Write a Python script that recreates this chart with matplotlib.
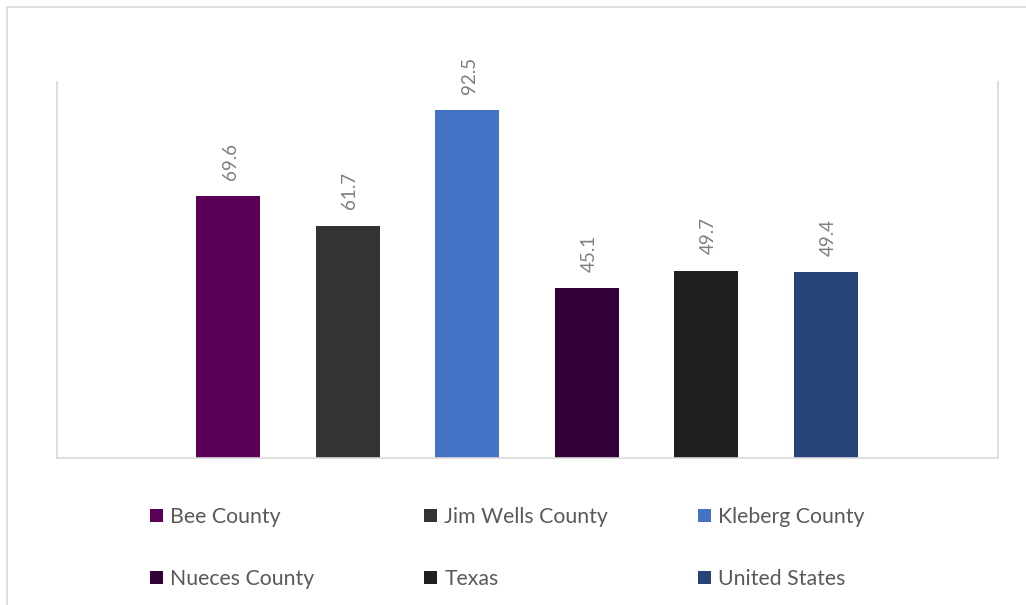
import matplotlib
matplotlib.use('Agg')
import matplotlib.pyplot as plt
from matplotlib.patches import Rectangle, Patch

# data
areas = ['Bee County', 'Jim Wells County', 'Kleberg County',
         'Nueces County', 'Texas', 'United States']
values = [69.6, 61.7, 92.5, 45.1, 49.7, 49.4]
colors = ['#5b0056', '#333331', '#4472c4', '#33003a', '#1f1f1d', '#264478']

plt.rcParams['font.family'] = ['Lato', 'DejaVu Sans']

W, H = 1026, 605
fig = plt.figure(figsize=(W / 100, H / 100), dpi=100)

# outer chart border (cut off on the right and bottom in the reference)
fig.patches.append(Rectangle((7 / W, -0.1), 1.2, 1.1 - 7 / H,
                             transform=fig.transFigure, fill=False,
                             edgecolor='#d9d9d9', linewidth=1.2))

ax = fig.add_axes([57 / W, 1 - 458 / H, (998 - 57) / W, (458 - 82) / H])
xs = list(range(len(values)))
bars = ax.bar(xs, values, width=0.535, color=colors)

for x, v in zip(xs, values):
    ax.annotate(f'{v:.1f}', (x, v), xytext=(1.5, 12), textcoords='offset points',
                rotation=90, ha='center', va='bottom', fontsize=13.5, color='#7f7f7f')

ax.set_xlim(-1.43, 6.44)
ax.set_ylim(0, 100)
ax.set_xticks([])
ax.set_yticks([])
ax.spines['top'].set_visible(False)
for s in ['left', 'right', 'bottom']:
    ax.spines[s].set_color('#d9d9d9')
    ax.spines[s].set_linewidth(1.2)

# legend: three fixed-width columns, two rows
col_x = [150, 424, 698]
for c in range(3):
    handles = [Patch(facecolor=colors[c], label=areas[c]),
               Patch(facecolor=colors[c + 3], label=areas[c + 3])]
    leg = fig.legend(handles=handles, loc='center left',
                     bbox_to_anchor=(col_x[c] / W, 1 - 548 / H),
                     frameon=False, fontsize=15.3, labelcolor='#595959',
                     handlelength=0.6, handleheight=0.6, handletextpad=0.35,
                     borderpad=0, borderaxespad=0, labelspacing=1.97)

fig.savefig('out.png', dpi=100, facecolor='white')
